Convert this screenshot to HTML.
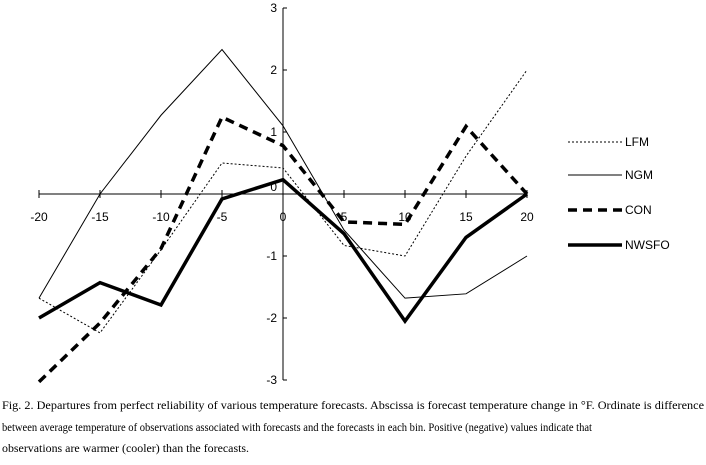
<!DOCTYPE html>
<html><head><meta charset="utf-8"><style>
body{margin:0;background:#fff;width:706px;height:465px;overflow:hidden;position:relative}
svg{display:block}
.t{font-family:"Liberation Sans Narrow","Liberation Sans",sans-serif;font-size:12px;fill:#000}
.cap{font-family:"Liberation Serif",serif;font-size:12px;fill:#000}
</style></head><body>
<svg id="c" width="706" height="465"></svg>
<script>
const xCats=[-20,-15,-10,-5,0,5,10,15,20];
const yTicks=[3,2,1,0,-1,-2,-3];
const lfm=[-1.68,-2.24,-0.9,0.5,0.42,-0.83,-1.0,0.61,2.0];
const ngm=[-1.68,0,1.27,2.33,1.1,-0.58,-1.68,-1.61,-1.0];
const con=[-3.03,-2.08,-0.88,1.24,0.78,-0.45,-0.49,1.09,0];
const nwsfo=[-2.0,-1.43,-1.79,-0.08,0.23,-0.64,-2.05,-0.7,0];
const seriesNames=["LFM","NGM","CON","NWSFO"];
const NS="http://www.w3.org/2000/svg";
const svg=document.getElementById('c');
const X=v=>283+v*12.2, Y=v=>194-v*62;
function mk(tag,at,parent){const e=document.createElementNS(NS,tag);for(const k in at)e.setAttribute(k,at[k]);(parent||svg).appendChild(e);return e;}
let ax=mk('line',{x1:X(-20),x2:X(20),y1:Y(0),y2:Y(0),stroke:'#000','stroke-width':1});


let ay=mk('line',{x1:X(0),x2:X(0),y1:Y(3),y2:Y(-3),stroke:'#000','stroke-width':1});


xCats.forEach(v=>{
 mk('line',{x1:X(v),x2:X(v),y1:Y(0)-4,y2:Y(0)+4,stroke:'#000'});
 const t=mk('text',{x:X(v),y:Y(0)+27,'text-anchor':'middle',class:'t'});t.textContent=v;
 
 
});
yTicks.forEach(v=>{
 mk('line',{x1:X(0),x2:X(0)+4,y1:Y(v),y2:Y(v),stroke:'#000'});
 const t=mk('text',{x:X(0)-6,y:Y(v)+(v===0?-3:4),'text-anchor':'end',class:'t'});t.textContent=v;
 
 
});
const styles=[{w:1,d:'2,2'},{w:1,d:''},{w:3.5,d:'9,6'},{w:3.5,d:''}];
const legY=[142,175,210,245];
[lfm,ngm,con,nwsfo].forEach((s,i)=>{
 const p=mk('polyline',{points:s.map((v,j)=>X(xCats[j])+','+Y(v)).join(' '),fill:'none',stroke:'#000','stroke-width':styles[i].w,'stroke-dasharray':styles[i].d,'stroke-linejoin':'miter'});
 
 
 const ly=legY[i];
 const l=mk('line',{x1:568,x2:622,y1:ly,y2:ly,stroke:'#000','stroke-width':styles[i].w,'stroke-dasharray':styles[i].d});
 
 
 const t=mk('text',{x:625,y:ly+4,class:'t'});t.textContent=seriesNames[i];
 
 
});
</script>
<svg style="position:absolute;left:0;top:0" width="706" height="465">
<text class="cap" x="2" y="409" textLength="702" lengthAdjust="spacingAndGlyphs">Fig. 2.  Departures from perfect reliability of various temperature forecasts.  Abscissa is forecast temperature change in °F.  Ordinate is difference</text>
<text class="cap" x="2" y="431" textLength="590" lengthAdjust="spacingAndGlyphs">between average temperature of observations associated with forecasts and the forecasts in each bin.  Positive (negative) values indicate that</text>
<text class="cap" x="2" y="452" textLength="247" lengthAdjust="spacingAndGlyphs">observations are warmer (cooler) than the forecasts.</text>
</svg>
</body></html>
